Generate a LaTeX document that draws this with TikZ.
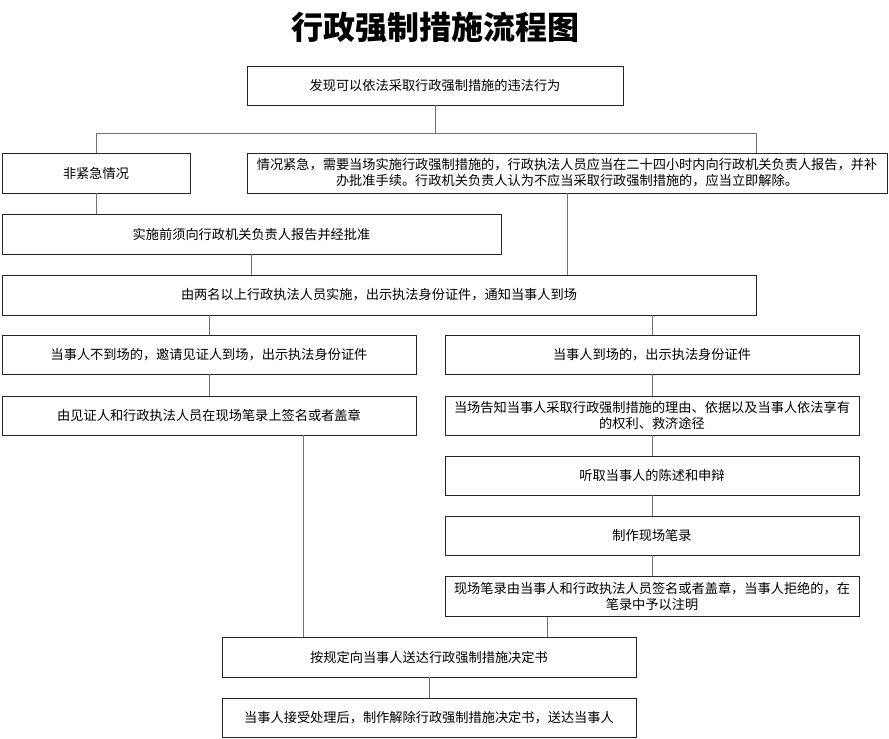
\documentclass[tikz,border=0pt]{standalone}
\usepackage{fontspec}
\newfontfamily\cjk{Noto Sans CJK SC}
\tikzset{
    box/.style={draw=black!85, line width=0.8pt, fill=white, align=center,
        inner sep=2pt, font=\cjk\fontsize{13.2}{16}\selectfont},
    conn/.style={draw=black!55, line width=0.8pt},
}
\begin{document}
\begin{tikzpicture}[x=1pt, y=-1pt]
        % 画布大小
        \useasboundingbox (0,0) rectangle (889,739);
        % 标题
        \node[font=\cjk\bfseries\fontsize{32}{36}\selectfont] (title) at (435,27) {行政强制措施流程图};
        % 第一层
        \node[box, minimum width=376pt, minimum height=39pt] (find) at (435,85.5) {发现可以依法采取行政强制措施的违法行为};
        \node[box, minimum width=188pt, minimum height=40pt] (normal) at (96,173) {非紧急情况};
        \node[box, minimum width=640pt, minimum height=40pt] (urgent) at (567,173)
            {情况紧急，需要当场实施行政强制措施的，行政执法人员应当在二十四小时内向行政机关负责人报告，并补\\办批准手续。行政机关负责人认为不应当采取行政强制措施的，应当立即解除。};
        \node[box, minimum width=499pt, minimum height=40pt] (approve) at (251.5,234) {实施前须向行政机关负责人报告并经批准};
        \node[box, minimum width=754pt, minimum height=40pt] (notify) at (379,295) {由两名以上行政执法人员实施，出示执法身份证件，通知当事人到场};
        % 左列
        \node[box, minimum width=414pt, minimum height=39pt] (absent) at (209,354.5) {当事人不到场的，邀请见证人到场，出示执法身份证件};
        \node[box, minimum width=414pt, minimum height=39pt] (witness) at (209,415.5) {由见证人和行政执法人员在现场笔录上签名或者盖章};
        % 右列
        \node[box, minimum width=414pt, minimum height=39pt] (present) at (652,354.5) {当事人到场的，出示执法身份证件};
        \node[box, minimum width=414pt, minimum height=39pt] (inform) at (652,415.5) {当场告知当事人采取行政强制措施的理由、依据以及当事人依法享有\\的权利、救济途径};
        \node[box, minimum width=414pt, minimum height=39pt] (hear) at (652,475.5) {听取当事人的陈述和申辩};
        \node[box, minimum width=414pt, minimum height=39pt] (record) at (652,535.5) {制作现场笔录};
        \node[box, minimum width=414pt, minimum height=40pt] (sign) at (652,596.5) {现场笔录由当事人和行政执法人员签名或者盖章，当事人拒绝的，在\\笔录中予以注明};
        % 底部
        \node[box, minimum width=414pt, minimum height=40pt] (deliver) at (429,657) {按规定向当事人送达行政强制措施决定书};
        \node[box, minimum width=414pt, minimum height=39pt] (release) at (429,717.5) {当事人接受处理后，制作解除行政强制措施决定书，送达当事人};
        % 分支点
        \coordinate (fork) at (find.south |- 0,133);
        \coordinate (forkL) at (normal.north |- fork);
        \coordinate (forkR) at (notify.north east |- fork);
        % 连线
        \draw[conn] (find.south) -- (fork);
        \draw[conn] (forkL) -- (forkR);
        \draw[conn] (forkL) -- (normal.north);
        \draw[conn] (forkR) -- (forkR |- urgent.north);
        \draw[conn] (normal.south) -- (normal.south |- approve.north);
        \draw[conn] (approve.south) -- (approve.south |- notify.north);
        \draw[conn] (urgent.south) -- (urgent.south |- notify.north);
        \draw[conn] (absent.north |- notify.south) -- (absent.north);
        \draw[conn] (present.north |- notify.south) -- (present.north);
        \draw[conn] (absent) -- (witness);
        \draw[conn] (present) -- (inform);
        \draw[conn] (inform) -- (hear);
        \draw[conn] (hear) -- (record);
        \draw[conn] (record) -- (sign);
        \draw[conn] ([xshift=94pt]witness.south) -- ([xshift=94pt]witness.south |- deliver.north);
        \draw[conn] ([xshift=103pt]sign.south west) -- ([xshift=103pt]sign.south west |- deliver.north);
        \draw[conn] (deliver) -- (release);
    \end{tikzpicture}
\end{document}
